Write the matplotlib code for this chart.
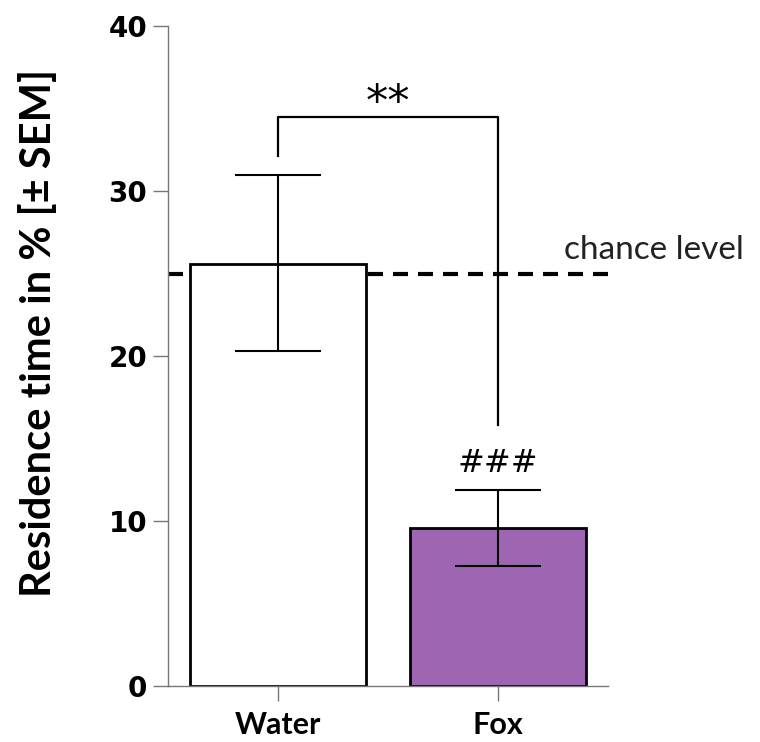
import matplotlib
matplotlib.use("Agg")
import matplotlib.pyplot as plt

# data
groups = ["Water", "Fox"]
means = [25.6, 9.6]
sem_low = [20.3, 7.3]
sem_high = [31.0, 11.9]
bar_colors = ["white", "#9e65b3"]
chance = 25
yticks = [0, 10, 20, 30, 40]
# significance bracket: left foot, top, right foot
bracket = [32.1, 34.5, 15.8]

fig = plt.figure(figsize=(7.6, 7.42), dpi=100)
ax = fig.add_axes([168 / 760, 56 / 742, 440 / 760, 660 / 742])

x = list(range(len(groups)))
ax.plot([-0.5, 1.5], [chance, chance], color="black", lw=3,
        dashes=(3.6, 2.4), zorder=1, solid_capstyle="butt")
ax.bar(x, means, width=0.8, color=bar_colors, edgecolor="black",
       linewidth=2, zorder=2)
err_lo = [m - l for m, l in zip(means, sem_low)]
err_hi = [h - m for m, h in zip(means, sem_high)]
ax.errorbar(x, means, yerr=[err_lo, err_hi], fmt="none", ecolor="black",
            elinewidth=1.5, capsize=31, capthick=1.5, zorder=3)

# bracket and marks
ax.plot([0, 0, 1, 1], [bracket[0], bracket[1], bracket[1], bracket[2]],
        color="black", lw=1.6, zorder=3)
ax.text(0.5, 35.3, "**", ha="center", va="center",
        fontsize=32, family="DejaVu Sans")
ax.text(1, 13.5, "###", ha="center", va="center",
        fontsize=23, family="DejaVu Sans")
ax.text(1.3, 26.4, "chance level", ha="left", va="center",
        fontsize=24, family="Lato", color="#222222", clip_on=False)

ax.set_xlim(-0.5, 1.5)
ax.set_ylim(0, 40)
ax.set_yticks(yticks)
ax.set_yticklabels([str(t) for t in yticks], fontsize=20,
                   fontweight="bold", family="DejaVu Sans")
ax.set_xticks(x)
ax.set_xticklabels(groups, fontsize=22, fontweight="bold", family="Lato")
ax.tick_params(axis="both", length=11, width=1, color="#777777")
ax.tick_params(axis="y", pad=4)
ax.tick_params(axis="x", pad=7)
for side in ["top", "right"]:
    ax.spines[side].set_visible(False)
for side in ["left", "bottom"]:
    ax.spines[side].set_color("#777777")
    ax.spines[side].set_linewidth(1)

ax.set_ylabel("Residence time in % [± SEM]", fontsize=30,
              fontweight="bold", family="Lato")
ax.yaxis.set_label_coords(-0.25, 0.535)

fig.savefig("out.png", dpi=100)
